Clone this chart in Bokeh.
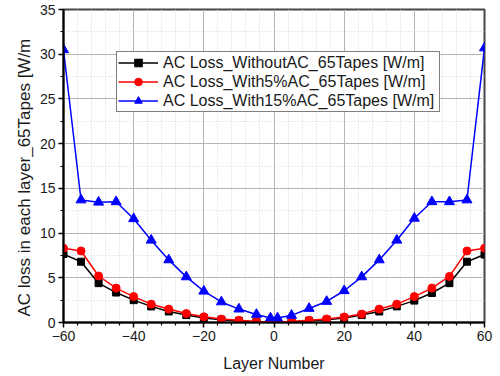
from bokeh.plotting import figure
from bokeh.models import FixedTicker, Range1d, Title, Legend, LegendItem
from bokeh.embed import file_html
from bokeh.resources import INLINE

layers = [-60, -55, -50, -45, -40, -35, -30, -25, -20, -15, -10, -5, -1,
          1, 5, 10, 15, 20, 25, 30, 35, 40, 45, 50, 55, 60]

loss_without = [7.65, 6.8, 4.4, 3.35, 2.5, 1.8, 1.23, 0.83, 0.5, 0.3, 0.18, 0.08, 0.03,
                0.03, 0.08, 0.18, 0.3, 0.5, 0.83, 1.23, 1.8, 2.45, 3.3, 4.4, 6.8, 7.6]
loss_5pct = [8.3, 8.0, 5.2, 3.85, 2.9, 2.05, 1.5, 1.0, 0.64, 0.38, 0.25, 0.12, 0.05,
             0.05, 0.12, 0.25, 0.4, 0.62, 0.94, 1.5, 2.05, 2.9, 3.85, 5.15, 8.0, 8.3]
loss_15pct = [30.5, 13.7, 13.45, 13.5, 11.6, 9.2, 7.0, 5.1, 3.5, 2.3, 1.5, 0.9, 0.5,
              0.5, 0.8, 1.57, 2.35, 3.55, 5.1, 7.0, 9.2, 11.65, 13.5, 13.5, 13.7, 30.7]

series_names = ["AC Loss_WithoutAC_65Tapes [W/m]",
                "AC Loss_With5%AC_65Tapes [W/m]",
                "AC Loss_With15%AC_65Tapes [W/m]"]

x_major = [-60, -40, -20, 0, 20, 40, 60]
x_minor = [-56, -52, -48, -44, -36, -32, -28, -24, -16, -12, -8, -4,
           4, 8, 12, 16, 24, 28, 32, 36, 44, 48, 52, 56]
y_major = [0, 5, 10, 15, 20, 25, 30, 35]
y_minor = [2.5, 7.5, 12.5, 17.5, 22.5, 27.5, 32.5]

FONT = "Liberation Sans"

p = figure(width=500, height=376, output_backend="svg", toolbar_location=None,
           title=None, x_range=Range1d(-60, 60), y_range=Range1d(0, 35),
           min_border_left=63, min_border_right=16, min_border_top=9, min_border_bottom=54)

p.background_fill_color = "white"
p.border_fill_color = "white"
p.outline_line_color = "#444444"
p.outline_line_width = 2

p.xaxis.ticker = FixedTicker(ticks=x_major, minor_ticks=x_minor)
p.yaxis.ticker = FixedTicker(ticks=y_major, minor_ticks=y_minor)

for ax in (p.xaxis[0], p.yaxis[0]):
    ax.axis_line_color = "black"
    ax.axis_line_width = 2
    ax.major_tick_line_color = "black"
    ax.major_tick_line_width = 1.5
    ax.minor_tick_line_color = "black"
    ax.minor_tick_line_width = 1.2
    ax.major_tick_out = 5
    ax.major_tick_in = 0
    ax.minor_tick_out = 3
    ax.minor_tick_in = 0
    ax.major_label_text_font = FONT
    ax.major_label_text_font_size = "14px"
    ax.major_label_text_color = "#1a1a1a"
    ax.major_label_standoff = 3
    ax.axis_label_text_font = FONT
    ax.axis_label_text_font_size = "16px"
    ax.axis_label_text_font_style = "normal"
    ax.axis_label_text_color = "#1a1a1a"

p.xaxis.axis_label = "Layer Number"
p.xaxis.axis_label_standoff = 11

ylab = Title(text="AC loss in each layer_65Tapes [W/m", align="left", offset=6,
             text_font=FONT, text_font_size="17px", text_font_style="normal",
             text_color="#1a1a1a", standoff=6)
p.add_layout(ylab, "left")

for g in (p.xgrid[0], p.ygrid[0]):
    g.grid_line_color = "#b5b5b5"
    g.grid_line_width = 1
    g.minor_grid_line_color = "#d5d5d5"
    g.minor_grid_line_dash = "1 2"
    g.minor_grid_line_width = 1

colors = ["black", "red", "blue"]
markers = ["square", "circle", "triangle"]
sizes = [7, 8, 10]
data = [loss_without, loss_5pct, loss_15pct]

items = []
for name, ys, c, m, s in zip(series_names, data, colors, markers, sizes):
    ln = p.line(layers, ys, line_color=c, line_width=1.5)
    sc = p.scatter(layers, ys, marker=m, size=s, fill_color=c, line_color=c)
    items.append(LegendItem(label=name, renderers=[ln, sc]))

legend = Legend(items=items, location=(53, 210), padding=1, spacing=0,
                label_height=19, glyph_height=19, glyph_width=40, label_standoff=5,
                label_width=275,
                label_text_font=FONT, label_text_font_size="16px", label_text_color="#1a1a1a",
                border_line_color="black", border_line_width=1, background_fill_alpha=1,
                margin=0)
p.add_layout(legend, "center")

open("out.html", "w").write(file_html(p, INLINE))
